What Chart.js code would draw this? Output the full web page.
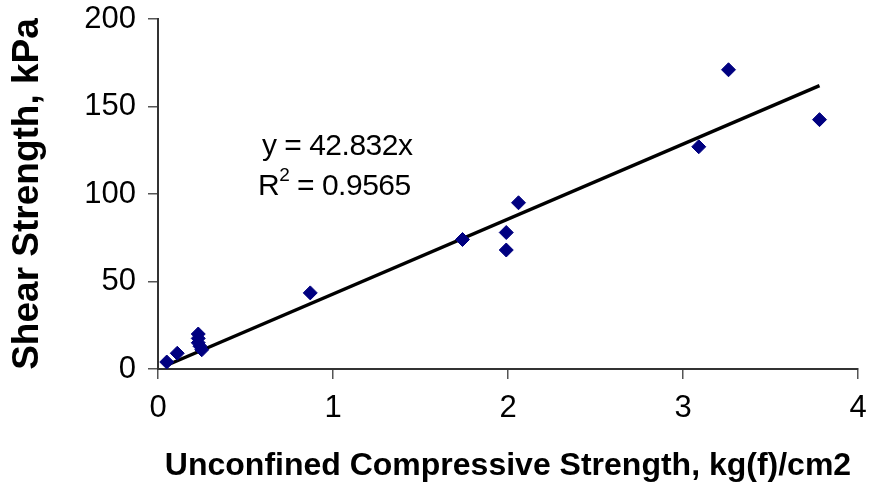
<!DOCTYPE html>
<html>
<head>
<meta charset="utf-8">
<script src="https://cdn.jsdelivr.net/npm/chart.js@4/dist/chart.umd.min.js"></script>
<style>
  html, body { margin: 0; padding: 0; background: #fff; }
  #wrap { width: 876px; height: 488px; }
</style>
</head>
<body>
<div id="wrap"><canvas id="c" width="876" height="488"></canvas></div>
<script>
// Unconfined compressive strength (kg(f)/cm2) vs. shear strength (kPa)
const ucsValues   = [0.05, 0.11, 0.23, 0.23, 0.23, 0.24, 0.25, 0.87, 1.74, 1.99, 1.99, 2.06, 3.09, 3.26, 3.78];
const shearValues = [4, 9, 20, 17.5, 15, 13, 11, 43.5, 74, 78, 68, 95, 127, 171, 142.5];

// Linear trendline through the origin
const slope = 42.832;
const rSquared = 0.9565;
const trendX = [0.05, 3.78];

const xTicks = [0, 1, 2, 3, 4];
const yTicks = [0, 50, 100, 150, 200];

const xTitle = 'Unconfined Compressive Strength, kg(f)/cm2';
const yTitle = 'Shear Strength, kPa';

const FONT = "'Liberation Sans', Arial, sans-serif";

const points = ucsValues.map((x, i) => ({ x: x, y: shearValues[i] }));
const trend = trendX.map(x => ({ x: x, y: slope * x }));

// Equation and R² text drawn inside the plot area
const equationLabel = {
  id: 'equationLabel',
  afterDatasetsDraw(chart) {
    const ctx = chart.ctx;
    ctx.save();
    ctx.fillStyle = '#000';
    ctx.textBaseline = 'alphabetic';
    ctx.textAlign = 'left';
    ctx.font = '30px ' + FONT;
    ctx.letterSpacing = '-0.5px';
    ctx.fillText('y = ' + slope + 'x', 262, 155);
    ctx.fillText('R', 258, 195);
    const rw = ctx.measureText('R').width;
    ctx.font = '19px ' + FONT;
    ctx.fillText('2', 258 + rw, 181);
    const sw = ctx.measureText('2').width;
    ctx.font = '30px ' + FONT;
    ctx.fillText(' = ' + rSquared, 258 + rw + sw, 195);
    ctx.restore();
  }
};

new Chart(document.getElementById('c'), {
  type: 'scatter',
  data: {
    datasets: [
      {
        type: 'line',
        data: trend,
        borderColor: '#000',
        borderWidth: 3.5,
        pointRadius: 0,
        fill: false,
        order: 1
      },
      {
        data: points,
        pointStyle: 'rectRot',
        pointRadius: 7,
        pointBorderWidth: 1,
        backgroundColor: '#000080',
        borderColor: '#000080',
        order: 0
      }
    ]
  },
  options: {
    responsive: false,
    animation: false,
    layout: { padding: { top: 19, right: 18, left: 0, bottom: 0 } },
    plugins: { legend: { display: false }, tooltip: { enabled: false } },
    scales: {
      x: {
        type: 'linear',
        min: 0, max: 4,
        afterBuildTicks(scale) { scale.ticks = xTicks.map(v => ({ value: v })); },
        afterFit(scale) {
          scale.height = 119;
          scale.paddingLeft = 0;
          scale.paddingRight = 0;
        },
        grid: { drawOnChartArea: false, drawTicks: true, tickLength: 10, color: '#555', lineWidth: 1.5 },
        border: { display: true, color: '#333', width: 2 },
        ticks: { color: '#000', padding: 11, maxRotation: 0, font: { family: FONT, size: 31 } },
        title: { display: true, text: xTitle, color: '#000', padding: { top: 0, bottom: 3 },
                 font: { family: FONT, size: 32, weight: 'bold' } }
      },
      y: {
        type: 'linear',
        min: 0, max: 200,
        afterBuildTicks(scale) { scale.ticks = yTicks.map(v => ({ value: v })); },
        afterFit(scale) {
          scale.width = 158;
          scale.paddingTop = 0;
          scale.paddingBottom = 0;
        },
        grid: { drawOnChartArea: false, drawTicks: true, tickLength: 10, color: '#555', lineWidth: 1.5 },
        border: { display: true, color: '#333', width: 2 },
        ticks: { color: '#000', padding: 12, font: { family: FONT, size: 31 } },
        title: { display: true, text: yTitle, color: '#000', padding: { top: 6, bottom: 0 },
                 font: { family: FONT, size: 37, weight: 'bold' } }
      }
    }
  },
  plugins: [equationLabel]
});
</script>
</body>
</html>
